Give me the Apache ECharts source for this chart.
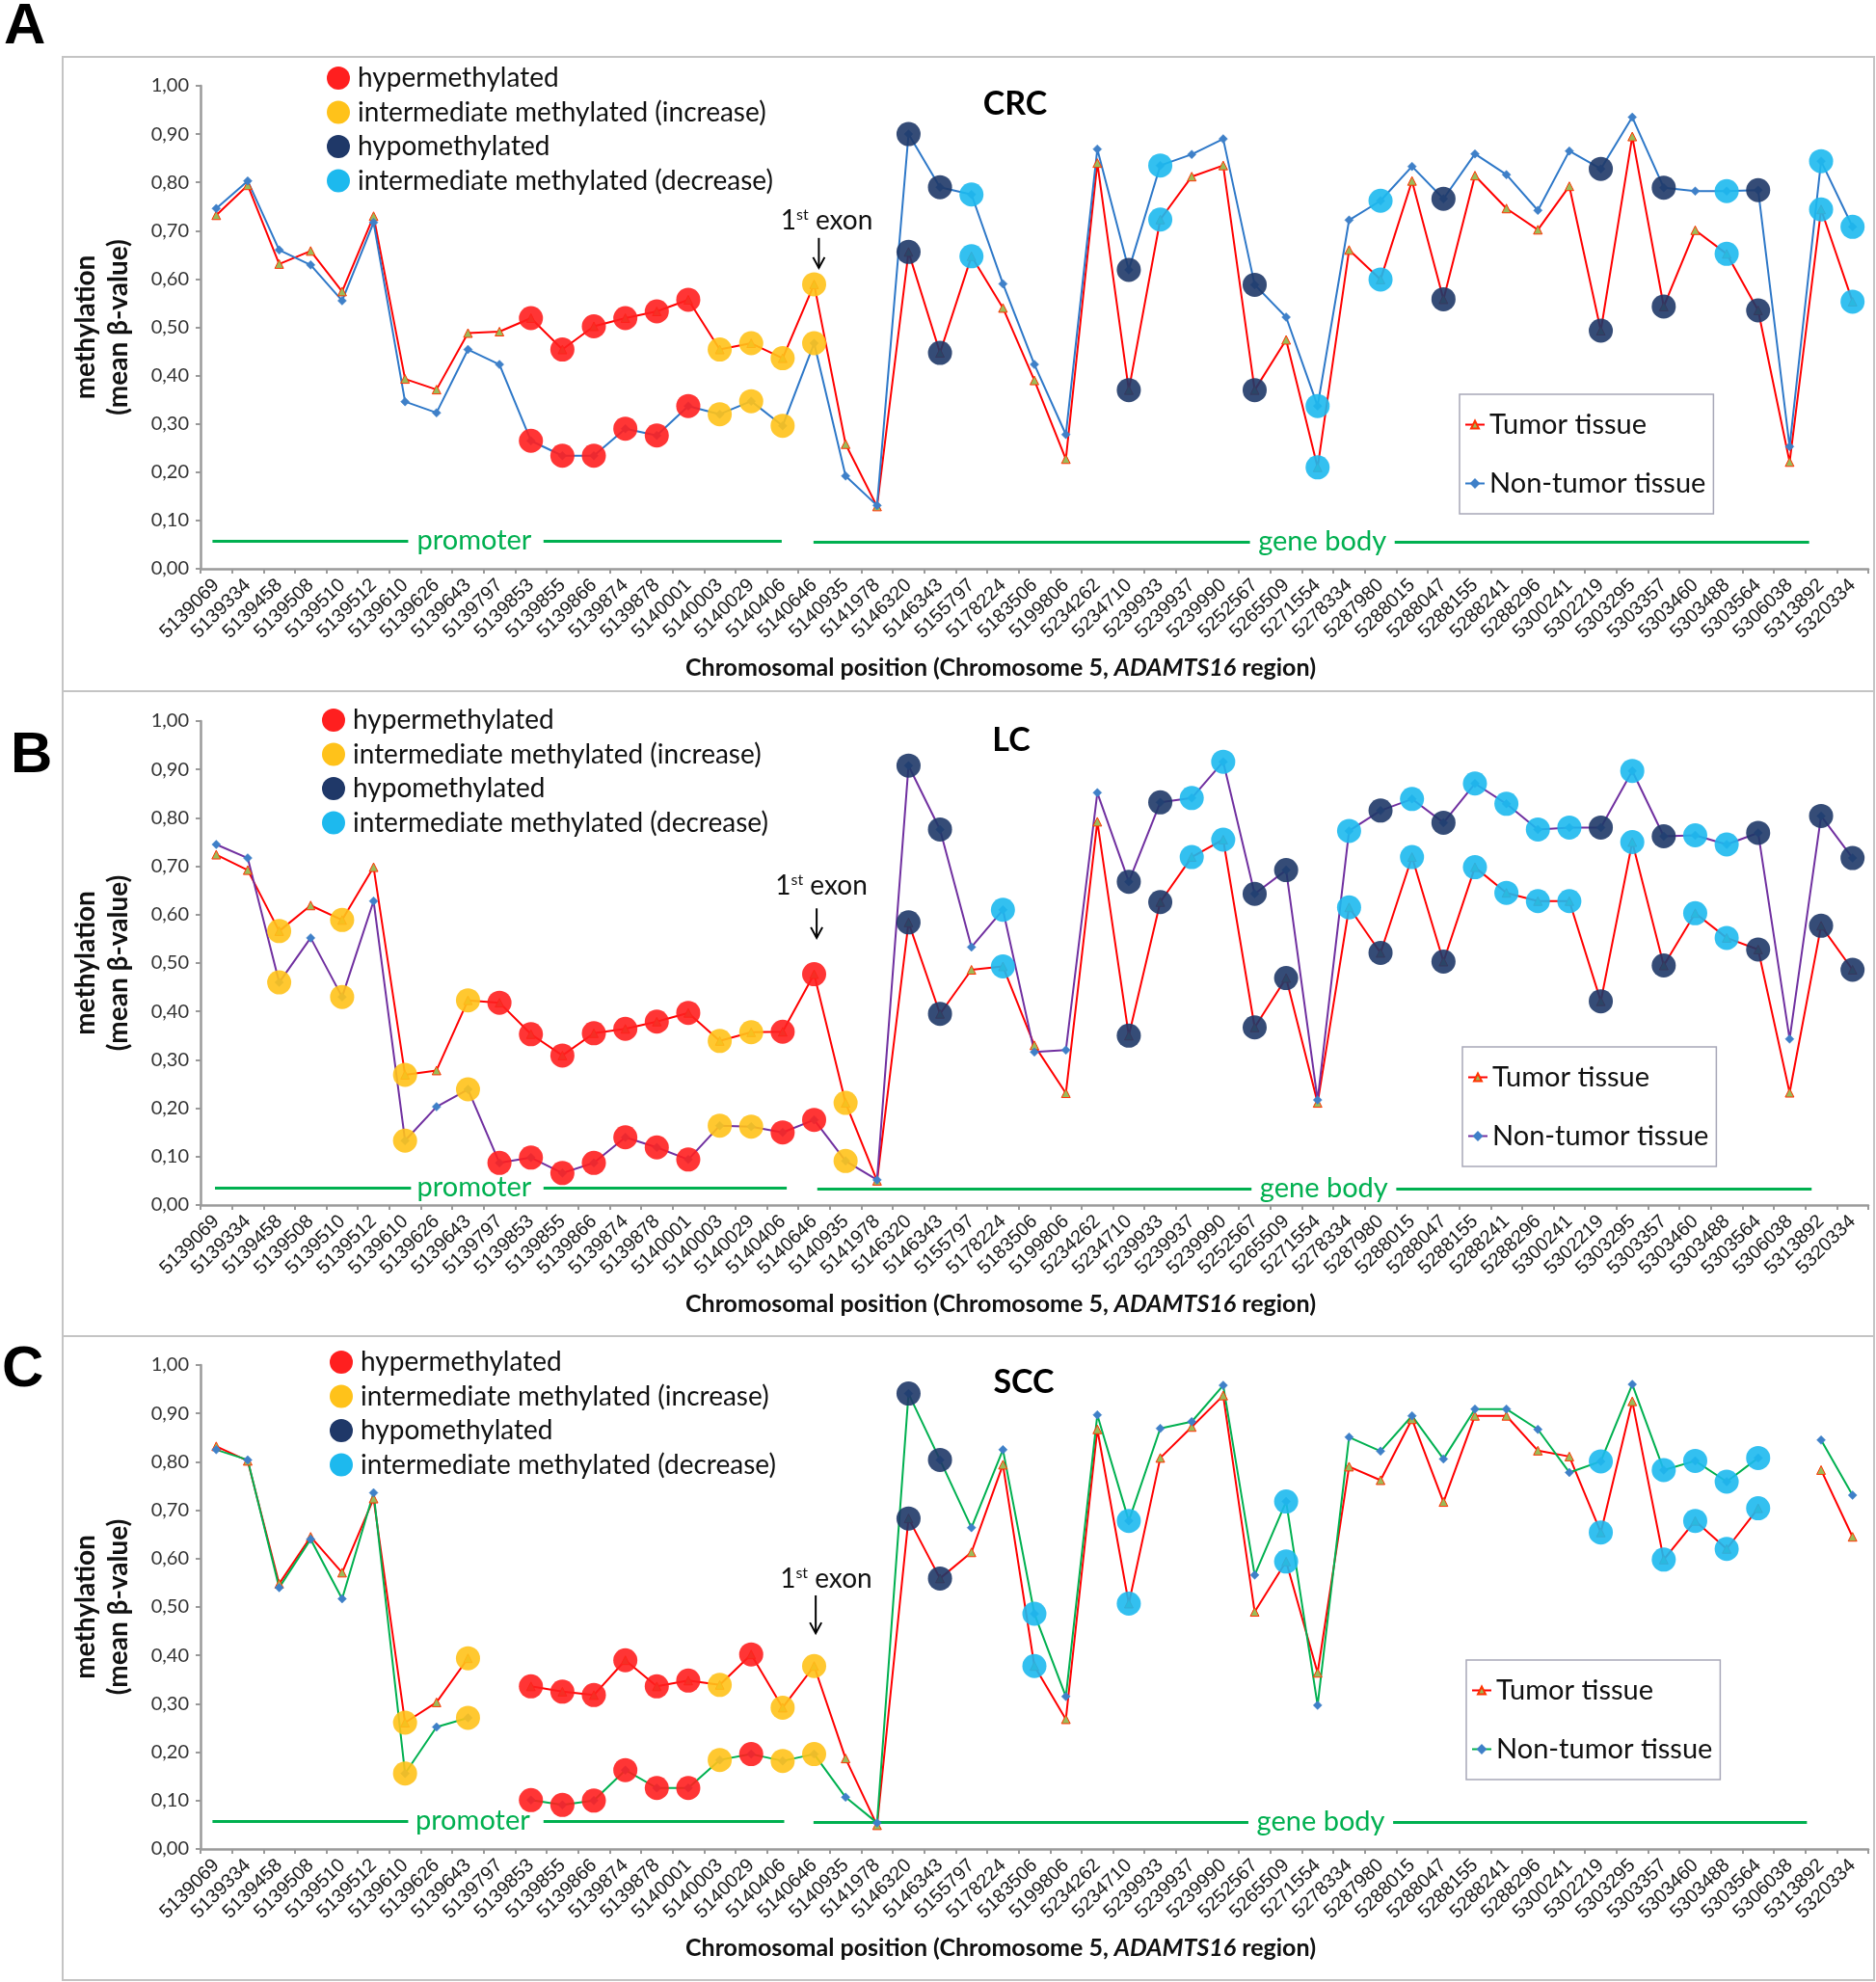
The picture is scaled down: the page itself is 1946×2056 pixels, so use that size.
<!DOCTYPE html>
<html><head><meta charset="utf-8">
<script src="https://cdn.jsdelivr.net/npm/echarts@6/dist/echarts.min.js"></script>
<style>html,body{margin:0;padding:0;background:#fff}#c{width:1946px;height:2056px}</style>
</head><body><div id="c"></div>
<script>
// ---------------- DATA ----------------
const positions = ['5139069','5139334','5139458','5139508','5139510','5139512','5139610','5139626','5139643','5139797','5139853','5139855','5139866','5139874','5139878','5140001','5140003','5140029','5140406','5140646','5140935','5141978','5146320','5146343','5155797','5178224','5183506','5199806','5234262','5234710','5239933','5239937','5239990','5252567','5265509','5271554','5278334','5287980','5288015','5288047','5288155','5288241','5288296','5300241','5302219','5303295','5303357','5303460','5303488','5303564','5306038','5313892','5320334'];

const yTickValues = [0,0.1,0.2,0.3,0.4,0.5,0.6,0.7,0.8,0.9,1.0];

// CRC
const crcTumor = [0.732,0.794,0.631,0.658,0.574,0.730,0.393,0.371,0.488,0.491,0.519,0.454,0.502,0.519,0.533,0.557,0.454,0.467,0.436,0.589,0.258,0.129,0.656,0.447,0.647,0.540,0.390,0.227,0.840,0.370,0.723,0.812,0.835,0.370,0.474,0.210,0.660,0.599,0.803,0.558,0.814,0.746,0.702,0.792,0.493,0.895,0.543,0.701,0.652,0.535,0.221,0.744,0.553];
const crcNormal = [0.746,0.803,0.660,0.629,0.555,0.717,0.346,0.323,0.454,0.423,0.265,0.234,0.234,0.290,0.276,0.337,0.320,0.347,0.296,0.467,0.192,0.131,0.900,0.790,0.775,0.590,0.423,0.278,0.869,0.619,0.835,0.858,0.890,0.588,0.521,0.337,0.722,0.762,0.833,0.766,0.859,0.816,0.742,0.865,0.828,0.935,0.789,0.782,0.782,0.784,0.253,0.844,0.708];
const crcClass = ['','','','','','','','','','','R','R','R','R','R','R','Y','Y','Y','Y','','','N','N','L','','','','','N','L','','','N','','L','','L','','N','','','','','N','','N','','L','N','','L','L'];

// LC
const lcTumor = [0.724,0.692,0.566,0.619,0.589,0.698,0.269,0.278,0.423,0.418,0.353,0.309,0.355,0.364,0.379,0.397,0.339,0.357,0.358,0.477,0.211,0.050,0.584,0.395,0.486,0.493,0.330,0.231,0.792,0.350,0.626,0.719,0.755,0.367,0.469,0.211,0.615,0.521,0.719,0.503,0.698,0.645,0.628,0.628,0.421,0.750,0.495,0.603,0.552,0.528,0.232,0.577,0.486];
const lcNormal = [0.745,0.717,0.460,0.552,0.430,0.628,0.133,0.203,0.239,0.087,0.098,0.066,0.087,0.140,0.119,0.094,0.164,0.162,0.150,0.176,0.091,0.052,0.908,0.776,0.533,0.610,0.316,0.320,0.852,0.668,0.832,0.841,0.916,0.643,0.692,0.217,0.773,0.815,0.839,0.790,0.871,0.829,0.776,0.780,0.780,0.897,0.762,0.764,0.745,0.769,0.343,0.804,0.717];
const lcClass = ['','','Y','','Y','','Y','','Y','R','R','R','R','R','R','R','Y','Y','R','R','Y','','N','N','','L','','','','N','N','L','L','N','N','','L','N','L','N','L','L','L','L','N','L','N','L','L','N','','N','N'];

// SCC
const sccTumor = [0.832,0.802,0.548,0.645,0.571,0.724,0.261,0.303,0.394,null,0.336,0.325,0.318,0.390,0.336,0.348,0.339,0.402,0.292,0.378,0.187,0.049,0.683,0.559,0.613,0.794,0.378,0.268,0.867,0.507,0.808,0.872,0.937,0.490,0.594,0.364,0.790,0.762,0.888,0.717,0.895,0.895,0.823,0.811,0.654,0.925,0.598,0.678,0.620,0.704,null,0.783,0.645];
const sccNormal = [0.825,0.804,0.540,0.640,0.517,0.736,0.156,0.252,0.271,null,0.101,0.091,0.100,0.163,0.126,0.126,0.184,0.196,0.182,0.196,0.107,0.054,0.941,0.804,0.664,0.825,0.486,0.315,0.897,0.678,0.869,0.883,0.958,0.566,0.718,0.297,0.851,0.822,0.895,0.806,0.909,0.909,0.867,0.778,0.801,0.960,0.783,0.802,0.759,0.808,null,0.845,0.731];
const sccClass = ['','','','','','','Y','','Y','','R','R','R','R','R','R','Y','R','Y','Y','','','N','N','','','L','','','L','','','','','L','','','','','','','','','','L','','L','L','L','L','','',''];

const classCodes = ['R','Y','N','L'];
const classNames = ['hypermethylated','intermediate methylated (increase)','hypomethylated','intermediate methylated (decrease)'];
const panelTitles = ['CRC','LC','SCC'];
const panelLetters = ['A','B','C'];
const xAxisTitle = ['Chromosomal position (Chromosome 5, ','ADAMTS16',' region)'];
const yAxisTitle = 'methylation\n(mean β-value)';

// ---------------- STYLE / LAYOUT ----------------
const FONT = 'Lato, "Open Sans", sans-serif';
const classColors = {R:'#FF1F1F', Y:'#FFC21A', N:'#1F3868', L:'#1DB9EE'};
const normalLineColors = ['#2E78C8','#7030A0','#00B050'];
const panelData = [
  {tumor:crcTumor, normal:crcNormal, cls:crcClass},
  {tumor:lcTumor, normal:lcNormal, cls:lcClass},
  {tumor:sccTumor, normal:sccNormal, cls:sccClass}
];
const L = [
  {box:[65,59,1879,658], gridTop:89, gridH:501, letter:[4,-2], title:[1053,108],
   classLeg:[339,65], tisLeg:[1514,409], region:{y1:0.057,y2:0.055,p:[[-0.12,6.1],[10.4,17.97]],pt:8.2,g:[[18.98,32.85],[37.45,50.62]],gt:35.15},
   exon:{tx:19.4,ty:0.72,ax:19.15,a1:0.685,a2:0.623}},
  {box:[65,717,1879,669], gridTop:748, gridH:502, letter:[11,754], title:[1049,768],
   classLeg:[334,731], tisLeg:[1517,1086], region:{y1:0.035,y2:0.033,p:[[-0.04,6.19],[10.4,18.13]],pt:8.2,g:[[19.1,32.9],[37.5,50.7]],gt:35.2},
   exon:{tx:19.23,ty:0.659,ax:19.08,a1:0.613,a2:0.552}},
  {box:[65,1386,1879,668], gridTop:1416, gridH:502, letter:[2,1391], title:[1062,1434],
   classLeg:[342,1397], tisLeg:[1521,1722], region:{y1:0.057,y2:0.055,p:[[-0.12,6.1],[10.4,18.05]],pt:8.15,g:[[18.98,32.8],[37.4,50.55]],gt:35.1},
   exon:{tx:19.38,ty:0.558,ax:19.05,a1:0.524,a2:0.446}}
];
const GL = 208, GW = 1730;

const grids = [], xAxes = [], yAxes = [], series = [], legends = [];
const stripName = n => n.slice(0, -2);
const axisGray = '#9A9A9A';

for (let k = 0; k < 3; k++) {
  const suf = ' ' + panelLetters[k];
  const d = panelData[k];
  grids.push({left:GL, width:GW, top:L[k].gridTop, height:L[k].gridH, containLabel:false, outerBoundsMode:'none'});
  xAxes.push({type:'category', gridIndex:k, data:positions, boundaryGap:true,
    axisLine:{lineStyle:{color:axisGray, width:2.5}},
    axisTick:{show:true, length:5, lineStyle:{color:axisGray, width:2}},
    axisLabel:{rotate:45, interval:0, fontSize:20, margin:14, color:'#1a1a1a', fontFamily:'"Liberation Sans", Arial, sans-serif'},
    splitLine:{show:false}});
  yAxes.push({type:'value', gridIndex:k, min:0, max:1, interval:0.1,
    axisLine:{show:true, lineStyle:{color:axisGray, width:2.5}},
    axisTick:{show:true, length:5, lineStyle:{color:axisGray, width:2}},
    axisLabel:{fontSize:20, margin:12, color:'#333', fontFamily:FONT, formatter:v => v.toFixed(2).replace('.', ',')},
    splitLine:{show:false},
    name:yAxisTitle, nameLocation:'middle', nameGap:68, nameRotate:90,
    nameTextStyle:{fontSize:28, fontWeight:'bold', color:'#111', lineHeight:34, fontFamily:FONT}});
  series.push({name:'Tumor tissue'+suf, type:'line', xAxisIndex:k, yAxisIndex:k, data:d.tumor,
    symbol:'triangle', symbolSize:9, showAllSymbol:true, z:3,
    lineStyle:{color:'#FF0000', width:2},
    itemStyle:{color:'#9BBB59', borderColor:'#FF3300', borderWidth:1}});
  series.push({name:'Non-tumor tissue'+suf, type:'line', xAxisIndex:k, yAxisIndex:k, data:d.normal,
    symbol:'diamond', symbolSize:9, showAllSymbol:true, z:3,
    lineStyle:{color:normalLineColors[k], width:2},
    itemStyle:{color:'#3F80C8', borderColor:'#3F80C8', borderWidth:0.5}});
  classCodes.forEach((c, ci) => {
    const pts = [];
    d.cls.forEach((v, i) => {
      if (v === c) {
        if (d.tumor[i] != null) pts.push([i, d.tumor[i]]);
        if (d.normal[i] != null) pts.push([i, d.normal[i]]);
      }
    });
    series.push({name:classNames[ci]+suf, type:'scatter', xAxisIndex:k, yAxisIndex:k, data:pts,
      symbol:'circle', symbolSize:25, z:4, silent:true,
      itemStyle:{color:classColors[c], opacity:0.9}});
  });
  legends.push({orient:'vertical', left:L[k].classLeg[0], top:L[k].classLeg[1], padding:0, itemGap:3.5,
    itemWidth:24, itemHeight:24, icon:'circle', selectedMode:false, formatter:stripName,
    itemStyle:{opacity:1},
    textStyle:{fontSize:28, lineHeight:32, color:'#111', fontFamily:FONT, padding:[0,0,0,3]},
    data:classNames.map(n => n + suf)});
  legends.push({orient:'vertical', left:L[k].tisLeg[0], top:L[k].tisLeg[1], padding:[14,8,14,5], itemGap:26,
    itemWidth:20, itemHeight:10, selectedMode:false, formatter:stripName,
    borderColor:'#A8A8B8', borderWidth:1.5,
    textStyle:{fontSize:29, lineHeight:35, color:'#111', fontFamily:FONT},
    data:['Tumor tissue'+suf, 'Non-tumor tissue'+suf]});
}

const chart = echarts.init(document.getElementById('c'));
chart.setOption({animation:false, backgroundColor:'#fff', grid:grids, xAxis:xAxes, yAxis:yAxes, series:series, legend:legends});

// ---------------- ANNOTATIONS ----------------
const graphics = [];
for (let k = 0; k < 3; k++) {
  const lay = L[k];
  const toPx = (i, v) => {
    const p0 = chart.convertToPixel({gridIndex:k}, [0, v]);
    const p1 = chart.convertToPixel({gridIndex:k}, [1, v]);
    return [p0[0] + i * (p1[0] - p0[0]), p0[1]];
  };
  graphics.push({type:'rect', shape:{x:lay.box[0], y:lay.box[1], width:lay.box[2], height:lay.box[3]},
    style:{fill:null, stroke:'#C4C4C4', lineWidth:2}, z:0, silent:true});
  graphics.push({type:'text', x:lay.letter[0], y:lay.letter[1],
    style:{text:panelLetters[k], font:'bold 60px "Liberation Sans", Arial, sans-serif', fill:'#000'}});
  graphics.push({type:'text', x:lay.title[0], y:lay.title[1],
    style:{text:panelTitles[k], font:'bold 34px '+FONT, fill:'#000', align:'center', verticalAlign:'middle'}});
  graphics.push({type:'text', x:1038, y:lay.gridTop + lay.gridH + 103,
    style:{text:'{b|'+xAxisTitle[0]+'}{i|'+xAxisTitle[1]+'}{b|'+xAxisTitle[2]+'}', align:'center', verticalAlign:'middle',
      rich:{b:{fontSize:25, fontWeight:'bold', fontFamily:FONT, fill:'#111'}, i:{fontSize:25, fontWeight:'bold', fontStyle:'italic', fontFamily:FONT, fill:'#111'}}}});
  // region lines
  const r = lay.region;
  [[r.p, r.y1, r.pt, 'promoter'], [r.g, r.y2, r.gt, 'gene body']].forEach(([segs, yv, tx, label]) => {
    segs.forEach(s => {
      const a = toPx(s[0], yv), b = toPx(s[1], yv);
      graphics.push({type:'line', shape:{x1:a[0], y1:a[1], x2:b[0], y2:b[1]}, style:{stroke:'#00B050', lineWidth:3}, silent:true});
    });
    const t = toPx(tx, yv);
    graphics.push({type:'text', x:t[0], y:t[1]-1, style:{text:label, font:'29px '+FONT, fill:'#00B050', align:'center', verticalAlign:'middle'}});
  });
  // 1st exon
  const e = lay.exon;
  const tp = toPx(e.tx, e.ty);
  graphics.push({type:'text', x:tp[0], y:tp[1],
    style:{text:'{a|1}{s|st}{a| exon}', align:'center', verticalAlign:'middle',
      rich:{a:{fontSize:28, fontFamily:FONT, fill:'#111'}, s:{fontSize:16, fontFamily:FONT, fill:'#111', verticalAlign:'top', padding:[0,0,12,0]}}}});
  const a1 = toPx(e.ax, e.a1), a2 = toPx(e.ax, e.a2);
  graphics.push({type:'line', shape:{x1:a1[0], y1:a1[1], x2:a2[0], y2:a2[1]}, style:{stroke:'#000', lineWidth:2}});
  graphics.push({type:'polyline', shape:{points:[[a2[0]-6, a2[1]-11],[a2[0], a2[1]],[a2[0]+6, a2[1]-11]]}, style:{stroke:'#000', lineWidth:2, fill:null}});
}
chart.setOption({graphic:graphics});
</script>
</body></html>
